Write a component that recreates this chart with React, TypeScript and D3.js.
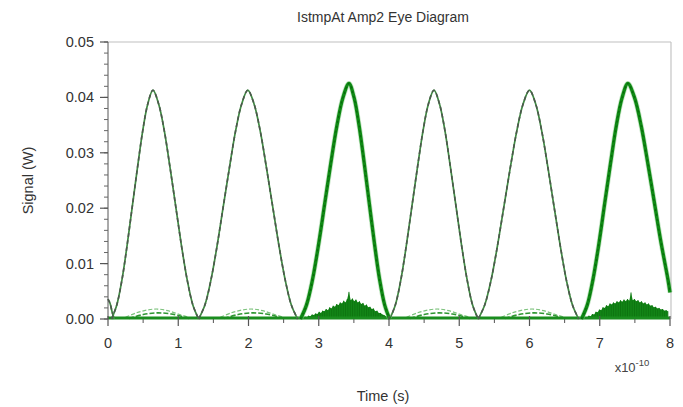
import * as d3 from "d3";

// time in units of 1e-10 s, signal in W
const xTicks = [0, 1, 2, 3, 4, 5, 6, 7, 8];
const yTicks = [0, 0.01, 0.02, 0.03, 0.04, 0.05];

const leadIn: [number, number][] = [[0, 0.0036], [0.03, 0.0028], [0.06, 0.0012], [0.09, 0]];

const peak1: [number, number][] = [
  [0.05, 0], [0.124, 0.00248], [0.198, 0.00702], [0.271, 0.01322], [0.345, 0.02024], [0.419, 0.02726], [0.493, 0.03387], [0.566, 0.03882], [0.64, 0.0413],
  [0.721, 0.03882], [0.803, 0.03387], [0.884, 0.02726], [0.965, 0.02024], [1.046, 0.01322], [1.128, 0.00702], [1.209, 0.00248], [1.29, 0],
];
const peak2: [number, number][] = [
  [1.29, 0], [1.378, 0.00248], [1.465, 0.00702], [1.553, 0.01322], [1.64, 0.02024], [1.728, 0.02726], [1.815, 0.03387], [1.903, 0.03882], [1.99, 0.0413],
  [2.079, 0.03882], [2.168, 0.03387], [2.256, 0.02726], [2.345, 0.02024], [2.434, 0.01322], [2.523, 0.00702], [2.611, 0.00248], [2.7, 0],
];
const peak3: [number, number][] = [
  [2.74, 0], [2.826, 0.00255], [2.913, 0.00723], [2.999, 0.0136], [3.085, 0.02083], [3.171, 0.02805], [3.258, 0.03485], [3.344, 0.03995], [3.43, 0.0425],
  [3.503, 0.03995], [3.575, 0.03485], [3.648, 0.02805], [3.72, 0.02083], [3.793, 0.0136], [3.865, 0.00723], [3.938, 0.00255], [4.01, 0],
];
const peak4: [number, number][] = [
  [4.01, 0], [4.089, 0.00248], [4.168, 0.00702], [4.246, 0.01322], [4.325, 0.02024], [4.404, 0.02726], [4.483, 0.03387], [4.561, 0.03882], [4.64, 0.0413],
  [4.719, 0.03882], [4.798, 0.03387], [4.876, 0.02726], [4.955, 0.02024], [5.034, 0.01322], [5.113, 0.00702], [5.191, 0.00248], [5.27, 0],
];
const peak5: [number, number][] = [
  [5.27, 0], [5.361, 0.00248], [5.453, 0.00702], [5.544, 0.01322], [5.635, 0.02024], [5.726, 0.02726], [5.818, 0.03387], [5.909, 0.03882], [6.0, 0.0413],
  [6.088, 0.03882], [6.175, 0.03387], [6.263, 0.02726], [6.35, 0.02024], [6.438, 0.01322], [6.525, 0.00702], [6.613, 0.00248], [6.7, 0],
];
const peak6: [number, number][] = [
  [6.74, 0], [6.823, 0.00255], [6.905, 0.00723], [6.988, 0.0136], [7.07, 0.02083], [7.153, 0.02805], [7.235, 0.03485], [7.318, 0.03995], [7.4, 0.0425],
  [7.495, 0.03995], [7.59, 0.03485], [7.685, 0.02805], [7.78, 0.02083], [7.875, 0.0136], [7.97, 0.0072], [8.0, 0.0048],
];

const cleanPeaks = [leadIn, peak1, peak2, peak4, peak5];
const noisyPeaks = [peak3, peak6];

// small ripples sitting near zero under the clean peaks
const rippleHigh: [number, number][][] = [
  [[0.25, 0.0003], [0.4, 0.0011], [0.55, 0.0016], [0.7, 0.0018], [0.85, 0.0015], [1.0, 0.0009], [1.15, 0.0003]],
  [[1.6, 0.0003], [1.75, 0.0011], [1.9, 0.0016], [2.05, 0.0018], [2.2, 0.0015], [2.35, 0.0009], [2.5, 0.0003]],
  [[4.25, 0.0003], [4.4, 0.0011], [4.55, 0.0016], [4.7, 0.0018], [4.85, 0.0015], [5.0, 0.0009], [5.15, 0.0003]],
  [[5.6, 0.0003], [5.75, 0.0011], [5.9, 0.0016], [6.05, 0.0018], [6.2, 0.0015], [6.35, 0.0009], [6.5, 0.0003]],
];
const rippleLow: [number, number][][] = [
  [[0.3, 0.0001], [0.5, 0.0008], [0.7, 0.0011], [0.9, 0.0009], [1.15, 0.0001]],
  [[1.65, 0.0001], [1.85, 0.0008], [2.05, 0.0011], [2.25, 0.0009], [2.5, 0.0001]],
  [[4.3, 0.0001], [4.5, 0.0008], [4.7, 0.0011], [4.9, 0.0009], [5.15, 0.0001]],
  [[5.65, 0.0001], [5.85, 0.0008], [6.05, 0.0011], [6.25, 0.0009], [6.5, 0.0001]],
];

// noise bursts under the noisy peaks (mW), one sample every 0.025
const burstStep = 0.025;
const burst1Start = 2.78;
const burst1Heights = [
  0.2, 0.4, 0.3, 0.6, 0.5, 0.8, 0.7, 1.0, 0.9, 1.3, 1.1, 1.5, 1.4, 1.8, 1.6, 2.1, 1.9, 2.4, 2.2, 2.7, 2.5, 3.0, 2.8, 3.3,
  3.0, 3.6, 4.9, 3.4, 3.7, 3.2, 3.5, 3.0, 3.2, 2.7, 2.9, 2.4, 2.6, 2.1, 2.2, 1.8, 1.9, 1.4, 1.5, 1.1, 1.1, 0.8, 0.7, 0.5,
  0.3,
];
const burst2Start = 6.82;
const burst2Heights = [
  0.3, 0.6, 0.5, 0.9, 0.8, 1.3, 1.2, 1.7, 1.6, 2.1, 2.0, 2.5, 2.3, 2.8, 2.6, 3.0, 2.8, 3.2, 3.0, 3.4, 3.1, 3.5, 3.2, 3.6,
  3.3, 4.8, 3.4, 3.6, 3.2, 3.4, 3.0, 3.2, 2.8, 3.0, 2.6, 2.8, 2.4, 2.5, 2.1, 2.2, 1.9, 2.0, 1.7, 1.8, 1.5, 1.6, 1.4,
];

const W = 683;
const H = 407;
const left = 108;
const right = 670;
const top = 42;
const bottom = 319;

export default function App() {
  const x = d3.scaleLinear().domain([0, 8]).range([left, right]);
  const y = d3.scaleLinear().domain([0, 0.05]).range([bottom, top]);

  const line = d3
    .line<[number, number]>()
    .x((d) => x(d[0]))
    .y((d) => y(d[1]))
    .curve(d3.curveCatmullRom);

  const bursts = [
    burst1Heights.map((h, i) => [burst1Start + i * burstStep, h / 1000] as [number, number]),
    burst2Heights.map((h, i) => [burst2Start + i * burstStep, h / 1000] as [number, number]),
  ];
  const burstArea = d3
    .area<[number, number]>()
    .x((d) => x(d[0]))
    .y0(y(0))
    .y1((d) => y(d[1]))
    .curve(d3.curveLinear);

  const yMinor = d3.range(0, 0.0501, 0.002);
  const xMinor = d3.range(0.5, 8, 1);
  const font = "Liberation Sans, Arial, sans-serif";

  return (
    <svg width={W} height={H} style={{ position: "absolute", left: 0, top: 0, background: "#fff" }}>
      <text x={383} y={22} textAnchor="middle" fontFamily={font} fontSize={14} fill="#333">
        IstmpAt Amp2 Eye Diagram
      </text>

      {/* frame */}
      <line x1={left} x2={right + 1} y1={top} y2={top} stroke="#d4d4d4" strokeWidth={1.5} />
      <line x1={right + 1} x2={right + 1} y1={top} y2={bottom} stroke="#c4c4c4" strokeWidth={1.2} />

      {/* ripples */}
      {rippleHigh.map((r, i) => (
        <path key={"rh" + i} d={line(r) ?? ""} fill="none" stroke="#7cc27c" strokeWidth={1.2} strokeDasharray="4 2" />
      ))}
      {rippleLow.map((r, i) => (
        <path key={"rl" + i} d={line(r) ?? ""} fill="none" stroke="#2f9632" strokeWidth={1.6} strokeDasharray="5 2" />
      ))}

      {/* noise bursts */}
      {bursts.map((b, i) => (
        <g key={"b" + i}>
          <path d={burstArea(b) ?? ""} fill="#168c1a" />
          {b.map((d, j) => (
            <line key={j} x1={x(d[0])} x2={x(d[0])} y1={y(0)} y2={y(d[1])} stroke="#0b6e0e" strokeWidth={0.8} />
          ))}
        </g>
      ))}

      {/* baseline trace */}
      <line x1={x(0)} x2={x(8)} y1={y(0) - 1} y2={y(0) - 1} stroke="#1a8d1e" strokeWidth={3} />

      {/* clean peaks */}
      {cleanPeaks.map((p, i) => (
        <g key={"c" + i}>
          <path d={line(p) ?? ""} fill="none" stroke="#3f8a42" strokeWidth={1.7} />
          <path d={line(p) ?? ""} fill="none" stroke="#4d574d" strokeWidth={1.6} strokeDasharray="4 3" />
        </g>
      ))}

      {/* noisy peaks */}
      {noisyPeaks.map((p, i) => (
        <g key={"n" + i}>
          <path d={line(p) ?? ""} fill="none" stroke="#8fd08f" strokeWidth={5} strokeOpacity={0.5} />
          <path d={line(p) ?? ""} fill="none" stroke="#0f8a14" strokeWidth={3.4} />
          <path d={line(p) ?? ""} fill="none" stroke="#0a650d" strokeWidth={1.2} strokeDasharray="2 3" />
        </g>
      ))}

      {/* y axis */}
      <line x1={left} x2={left} y1={top} y2={bottom} stroke="#555" strokeWidth={1} />
      {yMinor.map((v, i) => (
        <line key={"ym" + i} x1={left - 4} x2={left} y1={y(v)} y2={y(v)} stroke="#666" strokeWidth={1} />
      ))}
      {yTicks.map((v) => (
        <g key={"y" + v}>
          <line x1={left - 8} x2={left} y1={y(v)} y2={y(v)} stroke="#555" strokeWidth={1.2} />
          <text x={left - 14} y={y(v) + 5} textAnchor="end" fontFamily={font} fontSize={14.5} fill="#333">
            {v.toFixed(2)}
          </text>
        </g>
      ))}

      {/* x axis */}
      {xMinor.map((v) => (
        <line key={"xm" + v} x1={x(v)} x2={x(v)} y1={bottom} y2={bottom + 4} stroke="#555" strokeWidth={1} />
      ))}
      {xTicks.map((v) => (
        <g key={"x" + v}>
          <line x1={x(v)} x2={x(v)} y1={bottom - 3} y2={bottom + 7} stroke="#555" strokeWidth={1.2} />
          <text x={x(v)} y={bottom + 29} textAnchor="middle" fontFamily={font} fontSize={14.5} fill="#333">
            {v}
          </text>
        </g>
      ))}
      <text x={632} y={372} textAnchor="middle" fontFamily={font} fontSize={13} fill="#444">
        x10
        <tspan dy={-6} fontSize={9.5}>
          -10
        </tspan>
      </text>

      <text x={383} y={401} textAnchor="middle" fontFamily={font} fontSize={14.5} fill="#333">
        Time (s)
      </text>
      <text
        transform={`translate(33, ${(top + bottom) / 2}) rotate(-90)`}
        textAnchor="middle"
        fontFamily={font}
        fontSize={14.5}
        fill="#333"
      >
        Signal (W)
      </text>
    </svg>
  );
}
